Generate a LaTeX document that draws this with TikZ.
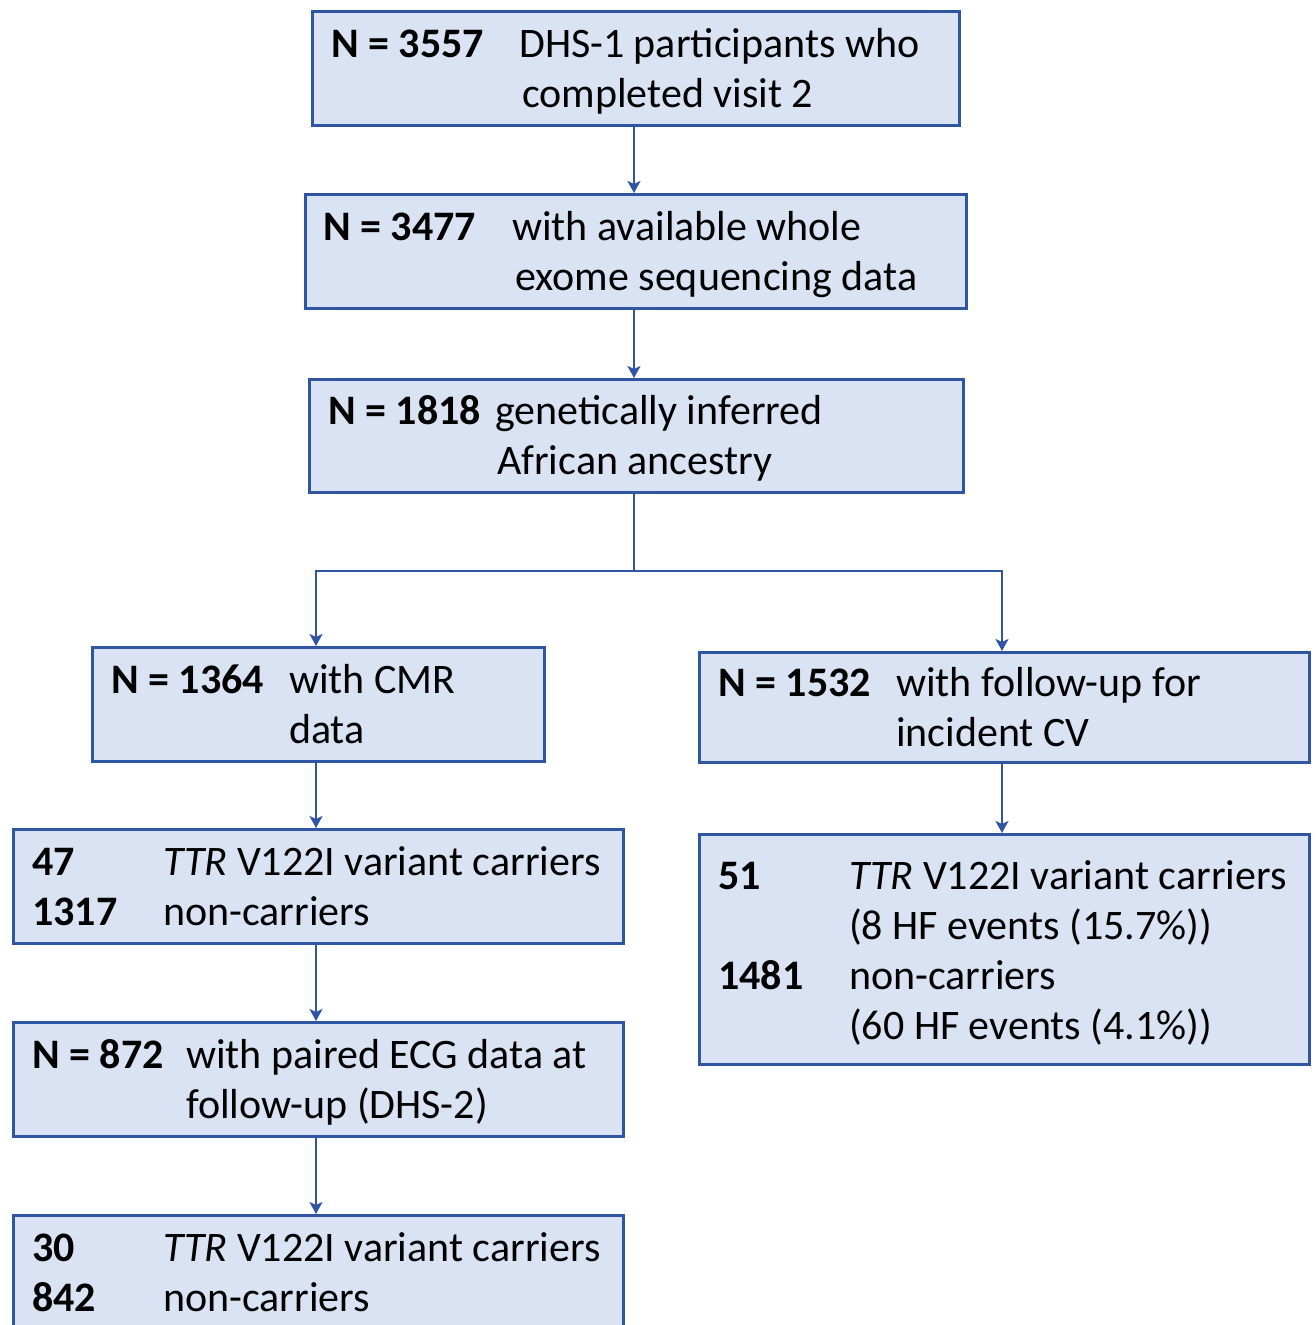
\documentclass[tikz,border=0pt]{standalone}
\usepackage{fontspec}
\setmainfont{Carlito}
\usetikzlibrary{arrows.meta}
\definecolor{boxfill}{HTML}{DAE3F3}
\definecolor{boxline}{HTML}{3056A3}
\begin{document}
\begin{tikzpicture}[x=1pt,y=-1pt,
  box/.style={draw=boxline,fill=boxfill,line width=3pt,inner sep=0pt,anchor=north west},
  txt/.style={anchor=base west,inner sep=0pt,font=\fontsize{42}{50}\selectfont},
  btxt/.style={txt,font=\fontsize{42}{50}\selectfont\bfseries},
  conn/.style={draw=boxline,line width=2.6pt,-{Stealth[length=12pt,width=13pt,inset=3pt]}},
  line/.style={draw=boxline,line width=2.6pt}]
\useasboundingbox (0,0) rectangle (1316,1325);
% boxes
\node[box,minimum width=647pt,minimum height=114pt] (b1) at (311,10) {};
\node[box,minimum width=661pt,minimum height=114pt] (b2) at (304,193) {};
\node[box,minimum width=654pt,minimum height=113pt] (b3) at (308,378) {};
\node[box,minimum width=452pt,minimum height=114pt] (b4) at (91,646) {};
\node[box,minimum width=610pt,minimum height=110pt] (b5) at (698,651) {};
\node[box,minimum width=610pt,minimum height=114pt] (b6) at (12,828) {};
\node[box,minimum width=610pt,minimum height=114pt] (b7) at (12,1021) {};
\node[box,minimum width=610pt,minimum height=130pt] (b8) at (12,1214) {};
\node[box,minimum width=610pt,minimum height=230pt] (b9) at (698,833) {};
% texts
\node[btxt] (t1a) at (331,57) {N = 3557};
\node[txt] (t1b) at (519,57) {DHS-1 participants who};
\node[txt] (t1c) at (522,107) {completed visit 2};
\node[btxt] (t2a) at (323,240) {N = 3477};
\node[txt] (t2b) at (512,240) {with available whole};
\node[txt] (t2c) at (515,290) {exome sequencing data};
\node[btxt] (t3a) at (328,424) {N = 1818};
\node[txt] (t3b) at (495,424) {genetically inferred};
\node[txt] (t3c) at (497,474) {African ancestry};
\node[btxt] (t4a) at (111,693) {N = 1364};
\node[txt] (t4b) at (289,693) {with CMR};
\node[txt] (t4c) at (289,743) {data};
\node[btxt] (t5a) at (718,696) {N = 1532};
\node[txt] (t5b) at (896,696) {with follow-up for};
\node[txt] (t5c) at (896,746) {incident CV};
\node[btxt] (t6a) at (32,875) {47};
\node[txt] (t6b) at (163,875) {\textit{TTR} V122I variant carriers};
\node[btxt] (t6c) at (32,925) {1317};
\node[txt] (t6d) at (163,925) {non-carriers};
\node[btxt] (t7a) at (32,1068) {N = 872};
\node[txt] (t7b) at (186,1068) {with paired ECG data at};
\node[txt] (t7c) at (186,1118) {follow-up (DHS-2)};
\node[btxt] (t8a) at (32,1261) {30};
\node[txt] (t8b) at (163,1261) {\textit{TTR} V122I variant carriers};
\node[btxt] (t8c) at (32,1311) {842};
\node[txt] (t8d) at (163,1311) {non-carriers};
\node[btxt] (t9a) at (718,889) {51};
\node[txt] (t9b) at (849,889) {\textit{TTR} V122I variant carriers};
\node[txt] (t9c) at (849,939) {(8 HF events (15.7\%))};
\node[btxt] (t9d) at (718,989) {1481};
\node[txt] (t9e) at (849,989) {non-carriers};
\node[txt] (t9f) at (849,1039) {(60 HF events (4.1\%))};
% connectors
\coordinate (split) at (634,571);
\draw[conn] (b1.south -| 634,0) -- (b2.north -| 634,0);
\draw[conn] (b2.south -| 634,0) -- (b3.north -| 634,0);
\draw[line] (b3.south -| 634,0) -- (split);
\draw[conn] (split) -| (b4.north -| 316,0);
\draw[conn] (split) -| (b5.north -| 1002,0);
\draw[conn] (b4.south -| 316,0) -- (b6.north -| 316,0);
\draw[conn] (b5.south -| 1002,0) -- (b9.north -| 1002,0);
\draw[conn] (b6.south -| 316,0) -- (b7.north -| 316,0);
\draw[conn] (b7.south -| 316,0) -- (b8.north -| 316,0);
\end{tikzpicture}
\end{document}
